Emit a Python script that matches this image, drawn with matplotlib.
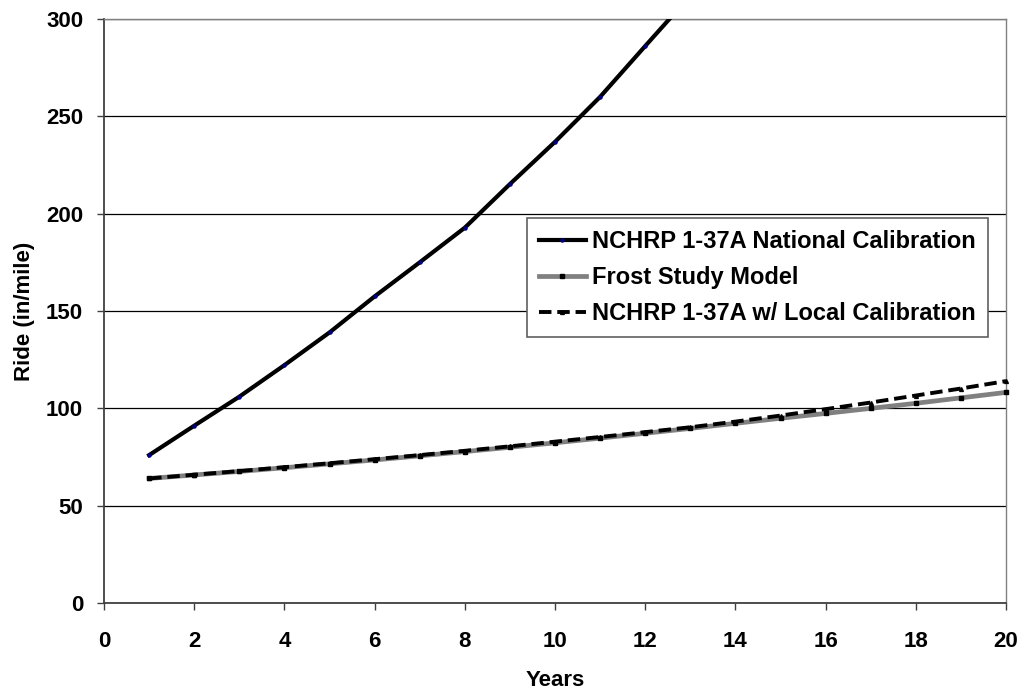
import matplotlib
matplotlib.use("Agg")
import matplotlib.pyplot as plt

plt.rcParams['font.family'] = ['Liberation Sans', 'DejaVu Sans']
plt.rcParams['font.weight'] = 'bold'

years_national = [1, 2, 3, 4, 5, 6, 7, 8, 9, 10, 11, 12, 13]
ride_national = [76.0, 91.1, 106.0, 122.2, 139.0, 157.5, 175.0, 192.8, 215.2, 236.9, 260.0, 286.1, 312.0]

years = list(range(1, 21))
ride_frost = [64.0, 65.8, 67.6, 69.5, 71.5, 73.5, 75.6, 77.8, 80.0, 82.3,
              84.7, 87.2, 89.7, 92.3, 94.9, 97.4, 100.0, 102.6, 105.4, 108.2]
ride_local = [64.0, 65.9, 67.8, 69.8, 71.8, 73.9, 76.0, 78.2, 80.5, 82.9,
              85.3, 87.8, 90.3, 93.2, 96.3, 99.6, 103.0, 106.6, 110.2, 114.0]

series_labels = ["NCHRP 1-37A National Calibration",
                 "Frost Study Model",
                 "NCHRP 1-37A w/ Local Calibration"]

fig = plt.figure(figsize=(10.23, 6.90), dpi=100)
ax = fig.add_axes([0.1017, 0.126, 0.8817, 0.8465])

ax.plot(years_national, ride_national, color='black', lw=3.0,
        marker='o', ms=2.2, mfc='#000080', mec='#000080',
        label=series_labels[0], zorder=4, clip_on=True)
ax.plot(years, ride_frost, color='#808080', lw=3.4,
        marker='s', ms=2.6, mfc='black', mec='black',
        label=series_labels[1], zorder=3, clip_on=False)
ax.plot(years, ride_local, color='black', lw=2.8, dashes=(3.2, 1.5),
        marker='^', ms=2.8, mfc='black', mec='black',
        label=series_labels[2], zorder=5, clip_on=False)

ax.set_xlim(0, 20)
ax.set_ylim(0, 300)
ax.set_xticks(range(0, 21, 2))
ax.set_yticks(range(0, 301, 50))
ax.yaxis.grid(True, color='black', lw=0.9)
ax.set_axisbelow(True)

for side in ['left', 'bottom']:
    ax.spines[side].set_color('#404040')
    ax.spines[side].set_linewidth(1.3)
for side in ['top', 'right']:
    ax.spines[side].set_color('#808080')
    ax.spines[side].set_linewidth(1.0)

ax.tick_params(axis='both', direction='out', length=5, width=1.0,
               color='#404040', labelsize=16)
ax.tick_params(axis='x', pad=15)
ax.tick_params(axis='y', pad=10)
for lab in ax.get_xticklabels() + ax.get_yticklabels():
    lab.set_fontweight('bold')

ax.set_xlabel("Years", fontsize=16, fontweight='bold', labelpad=13)
ax.set_ylabel("Ride (in/mile)", fontsize=16, fontweight='bold', labelpad=8)

leg = ax.legend(loc='upper left', bbox_to_anchor=(0.469, 0.659),
                borderaxespad=0.0,
                frameon=True, fancybox=False, framealpha=1.0,
                edgecolor='#606060', handlelength=2.0,
                handletextpad=0.25, borderpad=0.5, labelspacing=0.55,
                prop={'weight': 'bold', 'size': 17})
leg.get_frame().set_linewidth(1.2)

fig.savefig("out.png", dpi=100)
